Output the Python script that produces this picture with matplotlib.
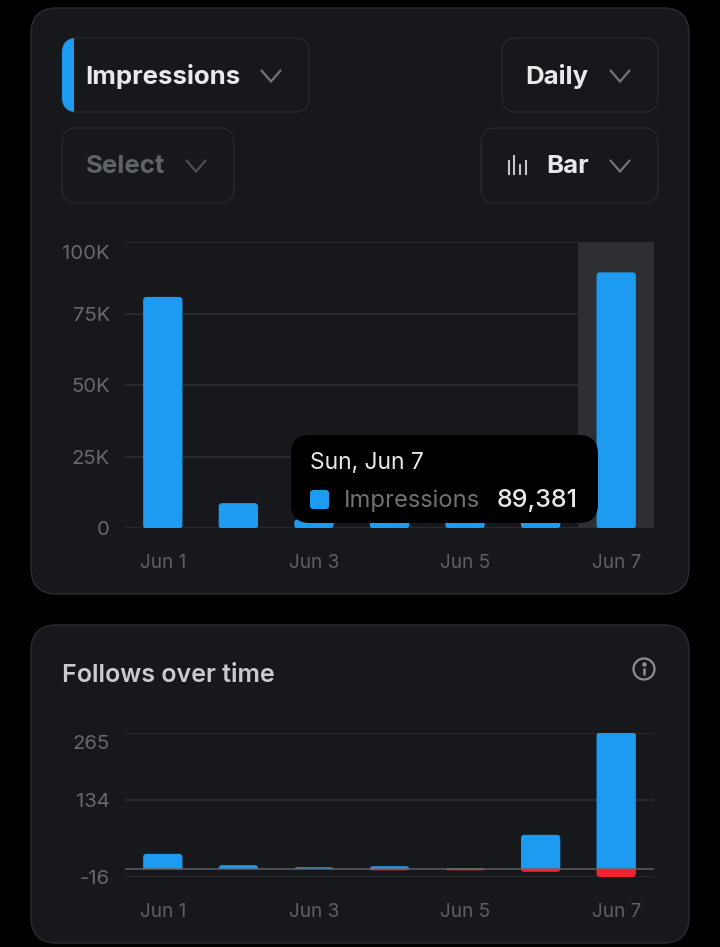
import matplotlib
matplotlib.use("Agg")
import matplotlib.pyplot as plt
from matplotlib.patches import FancyBboxPatch, PathPatch, Rectangle, Circle
from matplotlib.path import Path
from matplotlib.transforms import ScaledTranslation

W, H = 720, 947

days = ["Jun 1", "Jun 2", "Jun 3", "Jun 4", "Jun 5", "Jun 6", "Jun 7"]
day_labels = ["Jun 1", "", "Jun 3", "", "Jun 5", "", "Jun 7"]

impressions = [80800, 8700, 3000, 3000, 3000, 3000, 89381]
impression_ticks = [0, 25000, 50000, 75000, 100000]
impression_tick_labels = ["0", "25K", "50K", "75K", "100K"]

follows_gained = [29, 7, 3, 5, 1, 66, 265]
follows_lost = [-1, 0, 0, -3, -3, -6, -16]
follow_ticks = [-16, 134, 265]
follow_tick_labels = ["-16", "134", "265"]

BLUE = "#1d9bf0"
RED = "#f4212e"
CARD = "#16181c"
LINE = "#2a2d31"
TICK = "#66696e"
XTICK = "#5d6065"
WHITE = "#e7e9ea"

plt.rcParams["font.family"] = ["Inter", "DejaVu Sans"]

fig = plt.figure(figsize=(W / 100, H / 100), dpi=100, facecolor="black")


def pixel_axes(zorder):
    ax = fig.add_axes([0, 0, 1, 1], zorder=zorder)
    ax.set_xlim(0, W)
    ax.set_ylim(H, 0)
    ax.axis("off")
    return ax


def round_box(ax, x0, y0, x1, y1, r, face, edge="none", lw=0.8, zorder=2):
    box = FancyBboxPatch((x0 + r, y0 + r), x1 - x0 - 2 * r, y1 - y0 - 2 * r,
                         boxstyle=f"round,pad={r},rounding_size={r}",
                         facecolor=face, edgecolor=edge, linewidth=lw, zorder=zorder)
    ax.add_patch(box)
    return box


def chevron(ax, cx, cy, color):
    ax.plot([cx - 9.5, cx, cx + 9.5], [cy - 5.5, cy + 5.5, cy - 5.5], color=color,
            lw=1.6, solid_capstyle="round", solid_joinstyle="miter", zorder=4)


# Draws one bar with rounded ends, radii given in pixels
def rounded_bar(ax, x, width, value, color, px_x, px_y, r=3.5, base_r=0.0, zorder=3):
    if value == 0:
        return
    rx = min(r / px_x, width / 2)
    ry = min(r, abs(value) * px_y) / px_y
    bx = base_r / px_x
    by = base_r / px_y
    if value < 0:
        ry = -ry
    x0, x1 = x - width / 2, x + width / 2
    verts = [(x0 + bx, 0), (x0, 0), (x0, by), (x0, value - ry), (x0, value), (x0 + rx, value),
             (x1 - rx, value), (x1, value), (x1, value - ry), (x1, by), (x1, 0), (x1 - bx, 0),
             (x0 + bx, 0)]
    codes = [Path.MOVETO, Path.CURVE3, Path.CURVE3, Path.LINETO, Path.CURVE3, Path.CURVE3,
             Path.LINETO, Path.CURVE3, Path.CURVE3, Path.LINETO, Path.CURVE3, Path.CURVE3,
             Path.CLOSEPOLY]
    ax.add_patch(PathPatch(Path(verts, codes), facecolor=color, edgecolor="none", zorder=zorder))


def chart_axes(x0, y0, x1, y1, ymin, ymax, ticks, labels):
    ax = fig.add_axes([x0 / W, 1 - y1 / H, (x1 - x0) / W, (y1 - y0) / H], zorder=1)
    ax.patch.set_alpha(0)
    ax.set_xlim(-0.5, 6.5)
    ax.set_ylim(ymin, ymax)
    for s in ax.spines.values():
        s.set_visible(False)
    ax.set_yticks(ticks)
    ax.set_yticklabels(labels)
    ax.set_xticks(range(len(days)))
    ax.set_xticklabels(day_labels)
    ax.tick_params(axis="x", length=0, colors=XTICK, labelsize=13.7, pad=18.4)
    ax.tick_params(axis="y", length=0, colors=TICK, labelsize=14.6, pad=10.8)
    ax.grid(axis="y", color=LINE, lw=1.3, zorder=0)
    ax.set_axisbelow(True)
    # top label hangs below its grid line, as in the app
    last = ax.get_yticklabels()[-1]
    last.set_transform(last.get_transform() + ScaledTranslation(0, -9.5 / 100, fig.dpi_scale_trans))
    return ax


bg = pixel_axes(0)
round_box(bg, 31, 8, 689, 594, 26, CARD, LINE, lw=1.0)
round_box(bg, 31, 625, 689, 943, 26, CARD, LINE, lw=1.0)

# dropdown buttons
round_box(bg, 62, 38, 309, 112, 15, CARD, LINE)
round_box(bg, 62, 128, 234, 203, 15, CARD, LINE)
round_box(bg, 502, 38, 658, 112, 15, CARD, LINE)
round_box(bg, 481, 128, 658, 203, 15, CARD, LINE)

stripe = round_box(bg, 62, 38, 90, 112, 15, BLUE, zorder=3)
stripe.set_clip_path(Rectangle((62, 38), 12, 74, transform=bg.transData))

btn_font = dict(fontsize=18.6, fontweight="bold", va="center", zorder=4)
bg.text(85.5, 76, "Impressions", color=WHITE, ha="left", **btn_font)
bg.text(85.5, 166, "Select", color="#5f6266", ha="left", **btn_font)
bg.text(525.5, 76, "Daily", color=WHITE, ha="left", **btn_font)
bg.text(546.5, 166, "Bar", color=WHITE, ha="left", **btn_font)
chevron(bg, 271, 76, "#71767b")
chevron(bg, 196, 166, "#4a4d52")
chevron(bg, 620, 76, "#71767b")
chevron(bg, 620, 166, "#71767b")

# little bar icon in the chart type button
for ix, itop in zip([508.5, 514, 520, 525.5], [160, 155, 164, 160]):
    bg.plot([ix, ix], [itop, 175], color="#c4c7ca", lw=1.5, solid_capstyle="butt", zorder=4)

bg.text(62, 675, "Follows over time", color="#c9cbce", fontsize=18.0, fontweight="semibold",
        ha="left", va="center", zorder=4)
bg.add_patch(Circle((644, 669), 10.5, facecolor="none", edgecolor="#8b8e93", lw=1.6, zorder=4))
bg.plot([644, 644], [667.5, 675], color="#8b8e93", lw=1.8, solid_capstyle="butt", zorder=4)
bg.plot([644], [663.5], "o", color="#8b8e93", ms=2.2, zorder=4)

# impressions chart
top = chart_axes(125, 242, 654, 528, 0, 100000, impression_ticks, impression_tick_labels)
top.axvspan(5.5, 6.5, color="#2d2f32", lw=0, zorder=1)
for i, v in enumerate(impressions):
    rounded_bar(top, i, 0.52, v, BLUE, 529 / 7, 286 / 100000, base_r=2.5)

# follows chart
low = chart_axes(125, 732.5, 654, 877, -16, 265, follow_ticks, follow_tick_labels)
for i, (up, down) in enumerate(zip(follows_gained, follows_lost)):
    rounded_bar(low, i, 0.52, up, BLUE, 529 / 7, 144.5 / 281)
    rounded_bar(low, i, 0.52, down, RED, 529 / 7, 144.5 / 281)
low.axhline(0, color="#6a6d71", lw=1.2, alpha=0.75, zorder=5)

# tooltip sits over the impressions chart
over = pixel_axes(2)
round_box(over, 291, 435, 598, 523, 19, "black", zorder=5)
over.text(310, 462.5, "Sun, Jun 7", color=WHITE, fontsize=16.4, ha="left", va="center", zorder=6)
round_box(over, 310, 490, 329, 509, 3, BLUE, zorder=6)
over.text(344, 500.5, "Impressions", color="#6f7276", fontsize=17.1, ha="left", va="center", zorder=6)
over.text(578, 500.5, "89,381", color=WHITE, fontsize=18.0, fontweight="medium",
          ha="right", va="center", zorder=6)

fig.savefig("out.png", dpi=100, facecolor=fig.get_facecolor())
